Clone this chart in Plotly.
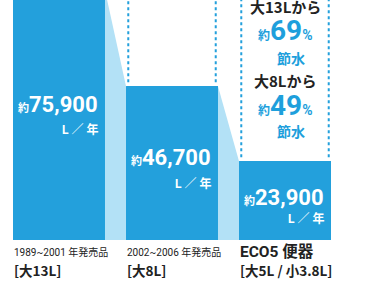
import plotly.graph_objects as go

# ---- data ----
categories = ["1989~2001 年発売品", "2002~2006 年発売品", "ECO5 便器"]
sub_labels = ["[大13L]", "[大8L]", "[大5L / 小3.8L]"]
values = [75900, 46700, 23900]          # L / year
unit = "L ／ 年"
saving_from = ["大13Lから", "大8Lから"]
saving_pct = [69, 49]

BLUE = "#23a0dc"
LIGHT = "#b3e1f6"
TEXT_BLUE = "#1e9fdc"
DARK = "#222222"
FONT = "Roboto, 'Noto Sans CJK JP', sans-serif"
JP = "'Noto Sans CJK JP', sans-serif"

W = 0.814
YMAX = 72900
PLOT_H = 240

fig = go.Figure()

# light blue connectors between bars (derived from values)
for i in range(len(values) - 1):
    xs = [i + W / 2, i + 1 - W / 2, i + 1 - W / 2, i + W / 2, i + W / 2]
    ys = [values[i], values[i + 1], 0, 0, values[i]]
    fig.add_trace(go.Scatter(x=xs, y=ys, mode="lines", fill="toself",
                             fillcolor=LIGHT, line=dict(width=0),
                             hoverinfo="skip", showlegend=False))

fig.add_trace(go.Bar(x=list(range(len(values))), y=values, width=W,
                     marker=dict(color=BLUE, line=dict(width=0)),
                     showlegend=False, hoverinfo="skip"))

# dotted "ghost" outlines above bars 2 and 3
for i in range(1, len(values)):
    for side in (-1, 1):
        xx = i + side * (W / 2 - 0.02)
        fig.add_shape(type="line", xref="x", yref="y", x0=xx, x1=xx,
                      y0=values[i] + 1200, y1=YMAX * 1.02,
                      line=dict(color=BLUE, width=2, dash="3px,3px"))

def py(p):
    return (PLOT_H - p) / PLOT_H

# value labels inside bars
num_centers = [104, 157, 197]
unit_centers = [129, 183, 218]
for i, v in enumerate(values):
    fig.add_annotation(x=i + W / 2 - 0.045, xref="x", y=py(num_centers[i]), yref="paper",
                       xanchor="right", yanchor="middle", showarrow=False,
                       text=f"<span style='font-size:11px'><b>約</b></span><b>{v:,}</b>",
                       font=dict(family=FONT, size=22, color="white"))
    fig.add_annotation(x=i + W / 2 - 0.045, xref="x", y=py(unit_centers[i]), yref="paper",
                       xanchor="right", yanchor="middle", showarrow=False,
                       text=f"<b>{unit}</b>",
                       font=dict(family=FONT, size=12, color="white"))

# category labels below
for i, (c, s) in enumerate(zip(categories, sub_labels)):
    big = i == len(categories) - 1
    fig.add_annotation(x=i - W / 2 - 0.005, xref="x", y=py(252), yref="paper",
                       xanchor="left", yanchor="middle", showarrow=False,
                       text=f"<b>{c}</b>" if big else c,
                       font=dict(family=FONT, size=15.5 if big else 10, color=DARK))
    fig.add_annotation(x=i - W / 2 - 0.005, xref="x", y=py(270), yref="paper",
                       xanchor="left", yanchor="middle", showarrow=False,
                       text=f"<b>{s}</b>", font=dict(family=JP, size=13.5, color=DARK))

# saving texts at the third bar
xc = len(values) - 1
blocks = [(6, 30, 58), (80, 105, 131)]
for (yf, yp, ys), frm, pct in zip(blocks, saving_from, saving_pct):
    fig.add_annotation(x=xc, xref="x", y=py(yf), yref="paper", xanchor="center",
                       yanchor="middle", showarrow=False, text=f"<b>{frm}</b>",
                       font=dict(family=JP, size=15, color=DARK))
    fig.add_annotation(x=xc, xref="x", y=py(yp), yref="paper", xanchor="center",
                       yanchor="middle", showarrow=False,
                       text=f"<span style='font-size:12px'><b>約</b></span><b>{pct}</b><span style='font-size:14px'><b>%</b></span>",
                       font=dict(family=FONT, size=28, color=TEXT_BLUE))
    fig.add_annotation(x=xc + 0.05, xref="x", y=py(ys), yref="paper", xanchor="center",
                       yanchor="middle", showarrow=False, text="<b>節水</b>",
                       font=dict(family=JP, size=14, color=TEXT_BLUE))

fig.update_layout(
    width=378, height=284,
    margin=dict(l=0, r=0, t=0, b=44, pad=0),
    paper_bgcolor="white", plot_bgcolor="white",
    xaxis=dict(range=[-59 / 113, -59 / 113 + 378 / 113], visible=False, fixedrange=True),
    yaxis=dict(range=[0, YMAX], visible=False, fixedrange=True),
    bargap=0,
)

fig.write_html("out.html", config={"displayModeBar": False})
